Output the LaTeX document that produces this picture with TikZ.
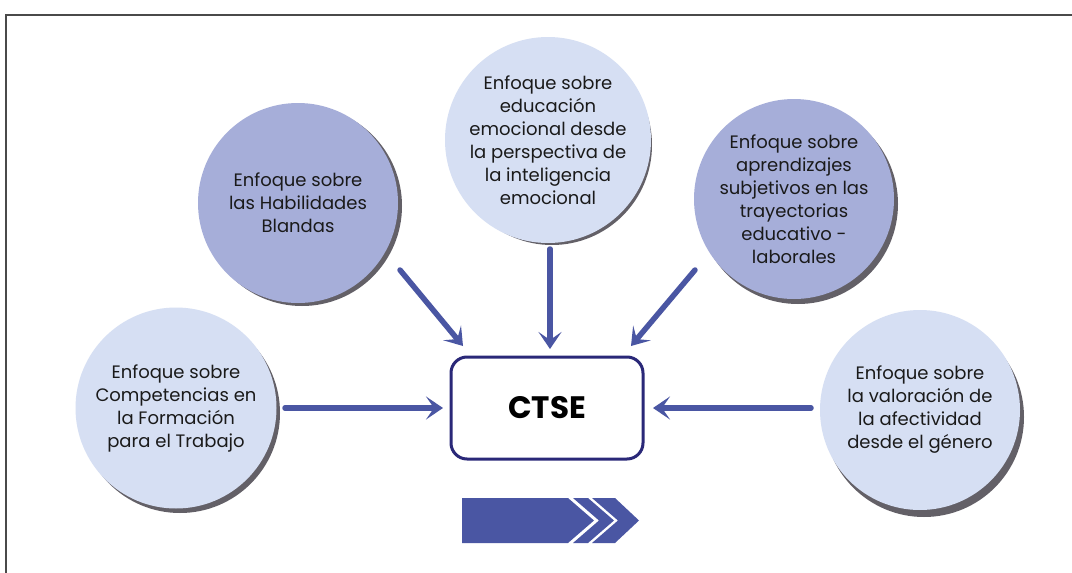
\documentclass[tikz,border=0pt]{standalone}
\usepackage{fontspec}
\setmainfont{Poppins}
\usetikzlibrary{arrows.meta}
\definecolor{lightc}{HTML}{D6DFF3}
\definecolor{darkc}{HTML}{A6AED9}
\definecolor{shadowc}{HTML}{636067}
\definecolor{arrowc}{HTML}{4A56A3}
\definecolor{boxc}{HTML}{2A2878}
\definecolor{framec}{HTML}{4A4A4A}
\definecolor{textc}{HTML}{1A1A1A}
\tikzset{
  bubble/.style={circle, minimum size=200pt, inner sep=0pt, align=center,
    text=textc, font=\fontsize{18}{23}\selectfont},
  lightbubble/.style={bubble, fill=lightc},
  darkbubble/.style={bubble, fill=darkc},
  shadowdisc/.style={circle, minimum size=200pt, inner sep=0pt, fill=shadowc},
  flow/.style={draw=arrowc, line width=5.5pt, line cap=round,
    -{Stealth[length=17pt, width=23pt, inset=8pt]}},
  ctsebox/.style={draw=boxc, line width=3pt, rounded corners=16pt, fill=white,
    minimum width=192pt, minimum height=102pt, font=\fontsize{31}{33}\selectfont\bfseries},
}
\begin{document}
\begin{tikzpicture}[x=1pt, y=-1pt]
\useasboundingbox (0,0) rectangle (1072,573);
\clip (0,0) rectangle (1072,573);
\fill[white] (0,0) rectangle (1072,573);
\draw[framec, line width=2.5pt] (6,600) -- (6,15) -- (1100,15);

% shadows
\node[shadowdisc] (s1) at (180,413) {};
\node[shadowdisc] (s2) at (302,206) {};
\node[shadowdisc] (s3) at (552,145) {};
\node[shadowdisc] (s4) at (798,204) {};
\node[shadowdisc] (s5) at (924,417) {};

% bubbles
\node[lightbubble, minimum size=201pt] (comp) at (176,408) {Enfoque sobre\\Competencias en\\la Formación\\para el Trabajo};
\node[darkbubble] (hab) at (298,203) {Enfoque sobre\\las Habilidades\\Blandas};
\node[lightbubble, minimum size=206pt] (edu) at (548,140) {Enfoque sobre\\educación\\emocional desde\\la perspectiva de\\la inteligencia\\emocional};
\node[darkbubble] (apr) at (794,199) {Enfoque sobre\\aprendizajes\\subjetivos en las\\trayectorias\\educativo -\\laborales};
\node[lightbubble] (val) at (920,410) {Enfoque sobre\\la valoración de\\la afectividad\\desde el género};

% central box
\node[ctsebox] (ctse) at (547,408) {CTSE};

% connector ends
\coordinate (a1s) at (285,408); \coordinate (a1e) at (443,408);
\coordinate (a2s) at (400,270); \coordinate (a2e) at (463,346);
\coordinate (a3s) at (550,249); \coordinate (a3e) at (550,349);
\coordinate (a4s) at (695,270); \coordinate (a4e) at (631,346);
\coordinate (a5s) at (811,408); \coordinate (a5e) at (653,408);
\draw[flow] (a1s) -- (a1e);
\draw[flow] (a2s) -- (a2e);
\draw[flow] (a3s) -- (a3e);
\draw[flow] (a4s) -- (a4e);
\draw[flow] (a5s) -- (a5e);

% chevron arrow
\fill[arrowc] (462,498) -- (568,498) -- (594,520.5) -- (568,543) -- (462,543) -- cycle;
\fill[arrowc] (573,498) -- (588,498) -- (614,520.5) -- (588,543) -- (573,543) -- (599,520.5) -- cycle;
\fill[arrowc] (592,498) -- (615,498) -- (639,520.5) -- (615,543) -- (592,543) -- (618,520.5) -- cycle;
\end{tikzpicture}
\end{document}
